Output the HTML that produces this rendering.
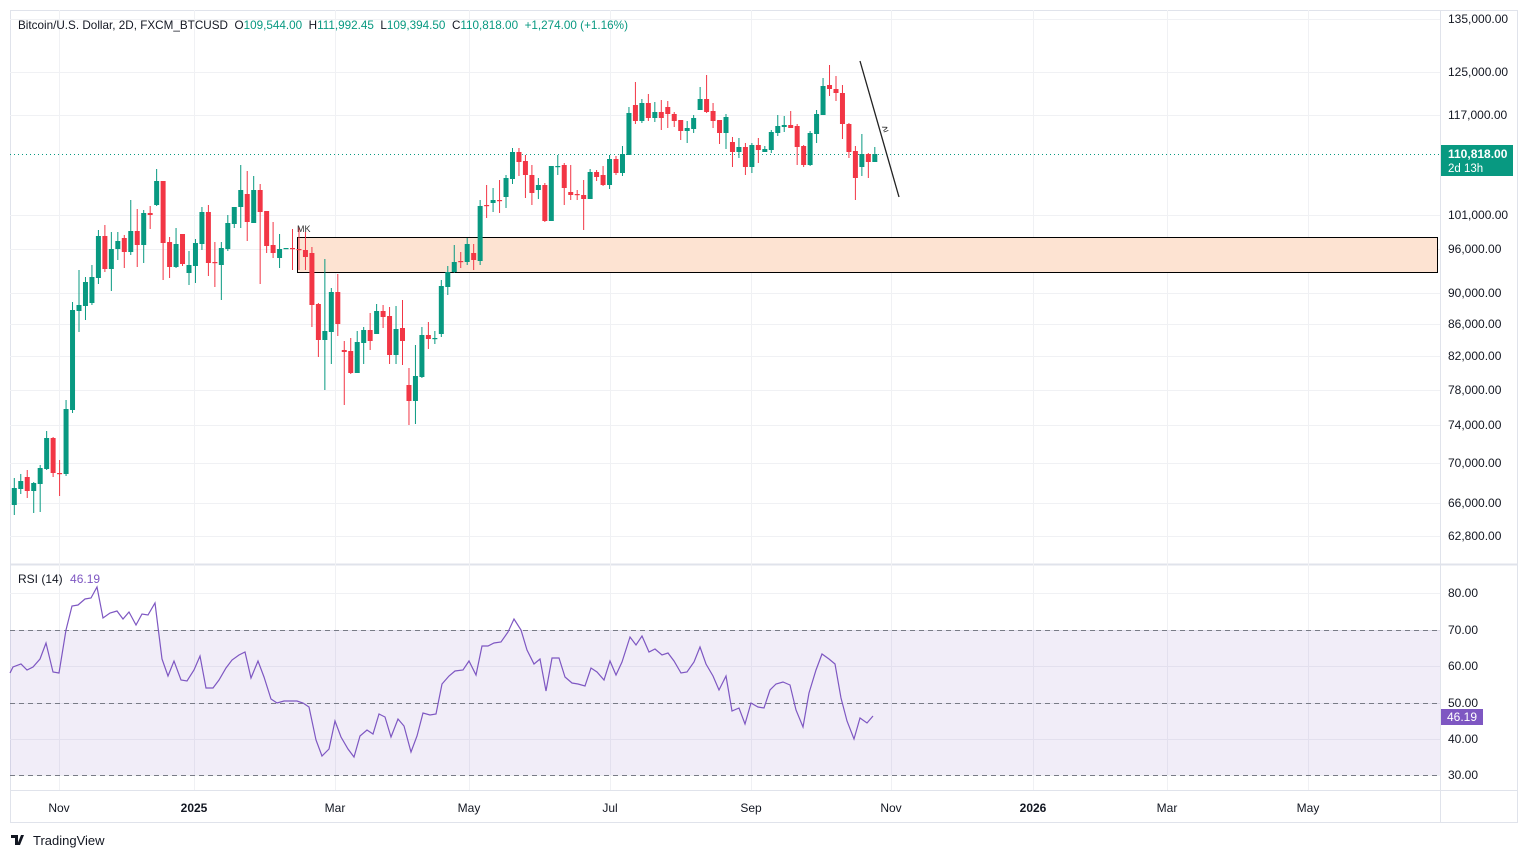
<!DOCTYPE html>
<html><head><meta charset="utf-8"><style>
body{margin:0;background:#fff;width:1528px;height:858px;overflow:hidden;font-family:"Liberation Sans",sans-serif}
svg text{font-family:"Liberation Sans",sans-serif;white-space:pre}
</style></head><body>
<svg id="s" width="1528" height="858" xmlns="http://www.w3.org/2000/svg">
<rect x="0" y="0" width="1528" height="858" fill="#fff"/>
<rect x="10.5" y="10.5" width="1507" height="812" fill="none" stroke="#e0e3eb"/>
<line x1="1440.5" y1="10" x2="1440.5" y2="822" stroke="#e0e3eb"/>
<line x1="10" y1="564.5" x2="1518" y2="564.5" stroke="#e0e3eb" stroke-width="2"/>
<line x1="10" y1="790.5" x2="1518" y2="790.5" stroke="#e0e3eb"/>
<g id="grid" stroke="#f0f1f4" stroke-width="1"></g>
<rect x="10" y="630" width="1430" height="145" fill="#7e57c2" fill-opacity="0.11"/>
<g stroke="#787b86" stroke-dasharray="5,4">
<line x1="10" y1="630.5" x2="1440" y2="630.5"/><line x1="10" y1="703.5" x2="1440" y2="703.5"/><line x1="10" y1="775.5" x2="1440" y2="775.5"/>
</g>
<rect x="297.5" y="237.5" width="1140" height="35" fill="#fde3d2" stroke="#000" stroke-width="1"/>
<line x1="10" y1="154.5" x2="1440" y2="154.5" stroke="#089981" stroke-dasharray="1,3"/>
<g id="c"></g>
<text x="297" y="232" font-size="9" fill="#333">MK</text>
<line x1="860" y1="61" x2="899" y2="197" stroke="#222" stroke-width="1.3"/>
<text x="882" y="131" font-size="10" fill="#111" transform="rotate(-20 887 127)">≥</text>
<polyline id="rsi" fill="none" stroke="#7e57c2" stroke-width="1.2"/>
<text x="18" y="29" font-size="12" fill="#131722" xml:space="preserve" textLength="610" lengthAdjust="spacingAndGlyphs">Bitcoin/U.S. Dollar, 2D, FXCM_BTCUSD  O<tspan fill="#089981">109,544.00</tspan>  H<tspan fill="#089981">111,992.45</tspan>  L<tspan fill="#089981">109,394.50</tspan>  C<tspan fill="#089981">110,818.00  +1,274.00 (+1.16%)</tspan></text>
<text x="18" y="583" font-size="12" fill="#131722">RSI (14) <tspan fill="#7e57c2" dx="4">46.19</tspan></text>
<g id="yl" font-size="12" fill="#131722"></g>
<rect x="1441" y="145" width="72" height="31" fill="#089981"/>
<text x="1448" y="158" font-size="12" fill="#fff" font-weight="bold">110,818.00</text>
<text x="1448" y="172" font-size="11.5" fill="#fff">2d 13h</text>
<rect x="1441" y="709" width="42" height="16" fill="#7e57c2"/>
<text x="1447" y="721" font-size="12" fill="#fff">46.19</text>
<g id="xl" font-size="12" fill="#131722"></g>
<text x="33" y="845" font-size="13" fill="#131722">TradingView</text>
<path d="M11 835h7v10h-3v-7h-4z M21 835l3 0-4 10h-3z" fill="#131722"/>
</svg>
<script>
var NS="http://www.w3.org/2000/svg";
function el(p,t,a){var e=document.createElementNS(NS,t);for(var k in a)e.setAttribute(k,a[k]);document.getElementById(p).appendChild(e);return e;}
var ys=[[19,"135,000.00"],[72,"125,000.00"],[115,"117,000.00"],[215,"101,000.00"],[249,"96,000.00"],[293,"90,000.00"],[324,"86,000.00"],[356,"82,000.00"],[390,"78,000.00"],[425,"74,000.00"],[463,"70,000.00"],[503,"66,000.00"],[536,"62,800.00"]];
ys.forEach(function(v){el("grid","line",{x1:10,x2:1440,y1:v[0]+.5,y2:v[0]+.5});var t=el("yl","text",{x:1448,y:v[0]+4});t.textContent=v[1];});
[[593,"80.00"],[630,"70.00"],[666,"60.00"],[703,"50.00"],[739,"40.00"],[775,"30.00"]].forEach(function(v){el("grid","line",{x1:10,x2:1440,y1:v[0]+.5,y2:v[0]+.5});var t=el("yl","text",{x:1448,y:v[0]+4});t.textContent=v[1];});
[[59,"Nov"],[194,"2025"],[335,"Mar"],[469,"May"],[610,"Jul"],[751,"Sep"],[891,"Nov"],[1033,"2026"],[1167,"Mar"],[1308,"May"]].forEach(function(v){el("grid","line",{x1:v[0]+.5,x2:v[0]+.5,y1:10,y2:790});var t=el("xl","text",{x:v[0],y:812,"text-anchor":"middle","font-weight":(v[1].length==4?"bold":"normal")});t.textContent=v[1];});
var d=[[505,488,478,515],[489,481,474,494],[477,491,470,498],[491,483,482,513],[484,468,465,512],[469,438,431,470],[438,473,437,477],[473,473,460,496],[474,409,400,476],[410,310,302,413],[311,305,270,332],[306,282,277,320],[303,277,265,305],[278,236,230,284],[236,269,225,272],[269,249,232,291],[249,241,232,260],[238,252,235,268],[252,231,200,255],[231,245,209,267],[245,213,210,263],[213,215,206,229],[205,181,169,206],[181,243,182,280],[242,267,237,278],[267,244,228,268],[234,264,234,266],[273,265,251,285],[266,243,239,283],[244,212,207,250],[212,263,205,276],[262,262,242,287],[265,248,242,300],[249,223,215,251],[224,207,219,228],[207,190,165,228],[194,222,171,241],[223,190,176,215],[190,212,184,284],[211,246,211,253],[245,253,222,258],[258,249,234,268],[248,248,249,249],[248,248,229,270],[249,250,227,270],[250,257,232,270],[253,305,247,327],[304,340,303,357],[340,331,259,390],[332,292,288,364],[292,324,274,336],[350,352,341,405],[351,373,338,374],[373,342,331,365],[343,330,327,364],[330,341,313,350],[334,311,304,334],[311,317,305,328],[316,355,307,364],[355,329,306,364],[328,341,300,365],[385,401,368,425],[401,376,345,424],[377,335,327,378],[335,339,322,349],[339,338,331,344],[334,286,280,337],[287,272,266,295],[272,262,245,273],[261,261,252,268],[262,244,238,265],[253,260,244,270],[261,206,200,265],[205,205,185,218],[203,200,188,212],[200,200,180,213],[197,178,175,208],[179,152,148,184],[152,162,148,176],[161,175,155,198],[175,193,165,205],[190,185,178,199],[185,221,183,222],[221,166,166,221],[166,166,155,175],[165,188,163,205],[192,195,165,200],[194,194,190,200],[195,199,180,230],[199,172,169,199],[172,177,170,181],[175,185,166,186],[185,159,155,189],[159,173,156,175],[173,154,146,176],[155,113,107,155],[105,121,82,124],[121,103,99,123],[103,118,94,121],[118,112,102,122],[112,118,100,130],[107,114,101,128],[114,121,112,127],[120,131,120,140],[131,128,121,143],[129,118,115,133],[110,99,87,110],[99,112,75,113],[111,121,103,128],[120,133,120,144],[133,117,114,149],[142,152,137,167],[152,147,138,158],[147,167,143,175],[167,145,143,173],[145,150,138,163],[152,149,146,152],[150,132,130,153],[133,126,115,136],[127,125,116,132],[125,128,111,128],[126,147,124,165],[146,165,145,167],[165,133,131,166],[134,114,110,143],[115,86,78,115],[85,89,65,96],[89,93,76,101],[93,124,85,139],[124,152,123,158],[151,178,146,200],[167,154,134,176],[154,162,153,178],[162,154,147,162]];
d.forEach(function(c,i){var x=14.3+i*6.47;var g=c[1]<c[0]||(c[1]==c[0]&&i%2==0);var col=g?"#089981":"#f23645";
el("c","line",{x1:x,x2:x,y1:c[2],y2:c[3],stroke:col,"stroke-width":1});
var t=Math.min(c[0],c[1]),h=Math.max(1.2,Math.abs(c[0]-c[1]));el("c","rect",{x:x-2.5,y:t,width:5,height:h,fill:col});});
var r="10,673 13,667 21,664 27,670 33,667 40,659 46,643 53,672 59,673 66,630 72,606 78,605 85,599 91,598 97,587 103,618 110,613 117,611 123,619 129,612 136,625 142,614 148,615 155,603 162,659 168,676 174,661 181,680 187,681 194,670 200,656 206,688 213,688 219,680 226,668 232,660 239,655 245,652 251,678 258,661 264,677 271,699 277,703 284,701 290,701 297,701 303,703 309,707 316,740 322,756 329,749 335,721 341,737 348,749 354,757 360,736 367,730 373,734 379,714 385,717 391,737 398,719 404,726 411,752 417,736 423,713 430,715 436,714 442,684 449,676 455,671 463,670 469,661 476,675 482,646 488,646 494,643 501,642 508,632 514,619 521,630 527,650 534,664 540,659 546,691 552,658 559,658 565,677 572,683 578,684 585,686 591,668 597,672 604,680 610,661 616,675 622,662 630,637 636,645 642,636 649,652 655,649 662,655 668,653 674,661 681,673 687,672 694,662 700,647 706,664 713,676 719,690 726,676 732,711 739,708 745,724 751,703 758,707 764,708 770,690 776,684 783,682 790,685 796,710 803,727 809,693 816,670 822,654 829,659 835,664 841,698 847,721 854,739 860,718 867,723 873,716";
document.getElementById("rsi").setAttribute("points",r);
</script>
</body></html>
